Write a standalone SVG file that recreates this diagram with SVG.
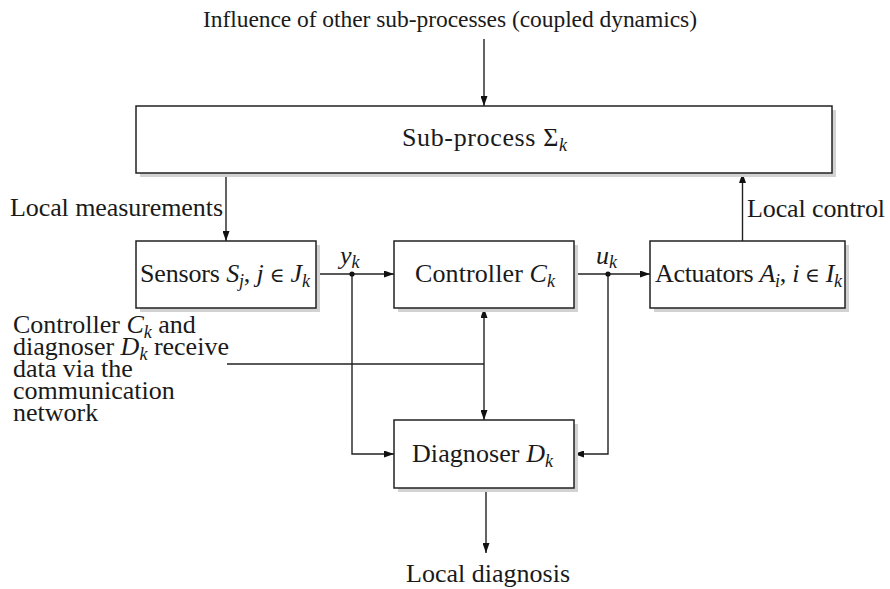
<svg xmlns="http://www.w3.org/2000/svg" width="890" height="589" viewBox="0 0 890 589">
  <style>
    .t{font-family:"Liberation Serif","Times New Roman",serif;font-size:26px;fill:#1a1a1a}
    .top{font-size:23.5px}
    .i{font-style:italic}
    .s{font-size:18px;font-style:italic}
    .el{font-family:"DejaVu Serif","Liberation Serif",serif;font-size:20px}
    .box{fill:#fff;stroke:#222;stroke-width:1.5}
    .sh{fill:#d2d2d2}
    .ln{fill:none;stroke:#222;stroke-width:1.4}
    .dot{fill:#111}
  </style>
  <defs>
    <marker id="arr" viewBox="0 0 10 7" refX="10" refY="3.5" markerWidth="10" markerHeight="7" markerUnits="userSpaceOnUse" orient="auto-start-reverse">
      <path d="M0,0 L10,3.5 L0,7 z" fill="#111"/>
    </marker>
  </defs>

  <rect width="890" height="589" fill="#fff"/>

  <!-- free labels -->
  <text class="t top" x="450" y="27" text-anchor="middle" textLength="494" lengthAdjust="spacing">Influence of other sub-processes (coupled dynamics)</text>
  <text class="t" x="10" y="216" textLength="213" lengthAdjust="spacing">Local measurements</text>
  <text class="t" x="747" y="217" textLength="138" lengthAdjust="spacing">Local control</text>
  <text class="t" x="406" y="582" textLength="164" lengthAdjust="spacing">Local diagnosis</text>
  <g id="network-note">
    <text class="t">
      <tspan x="13" y="333">Controller <tspan class="i">C</tspan><tspan class="s" dy="5">k</tspan><tspan dy="-5"> and</tspan></tspan>
      <tspan x="13" y="355">diagnoser <tspan class="i">D</tspan><tspan class="s" dy="5">k</tspan><tspan dy="-5"> receive</tspan></tspan>
      <tspan x="13" y="377">data via the</tspan>
      <tspan x="13" y="399">communication</tspan>
      <tspan x="13" y="421">network</tspan>
    </text>
  </g>

  <!-- connectors -->
  <g id="connectors">
    <path class="ln" d="M484,39 V106" marker-end="url(#arr)"/>
    <path class="ln" d="M226,173 V241" marker-end="url(#arr)"/>
    <path class="ln" d="M742.5,241 V173" marker-end="url(#arr)"/>
    <path class="ln" d="M316,274 H394" marker-end="url(#arr)"/>
    <path class="ln" d="M574,274 H650" marker-end="url(#arr)"/>
    <path class="ln" d="M352,274 V454 H394" marker-end="url(#arr)"/>
    <path class="ln" d="M608,274 V454 H574" marker-end="url(#arr)"/>
    <path class="ln" d="M484,308 V420" marker-start="url(#arr)" marker-end="url(#arr)"/>
    <path class="ln" d="M227,364 H484"/>
    <path class="ln" d="M486,488 V553" marker-end="url(#arr)"/>
    <circle class="dot" cx="352" cy="274" r="2.6"/>
    <circle class="dot" cx="608" cy="274" r="2.6"/>
    <text class="t" x="340" y="264"><tspan class="i">y</tspan><tspan class="s" dy="4">k</tspan></text>
    <text class="t" x="596" y="264"><tspan class="i">u</tspan><tspan class="s" dy="4">k</tspan></text>
  </g>

  <!-- nodes -->
  <g id="subprocess">
    <rect class="sh" x="140" y="110" width="696" height="67"/>
    <rect class="box" x="136" y="106" width="696" height="67"/>
    <text class="t" x="402" y="146" textLength="165" lengthAdjust="spacing">Sub-process  Σ<tspan class="s" dy="5">k</tspan></text>
  </g>
  <g id="sensors">
    <rect class="sh" x="140" y="245" width="180" height="67"/>
    <rect class="box" x="136" y="241" width="180" height="67"/>
    <text class="t" x="140" y="282" textLength="170" lengthAdjust="spacing">Sensors <tspan class="i">S</tspan><tspan class="s" dy="5">j</tspan><tspan dy="-5">, </tspan><tspan class="i">j</tspan><tspan class="el"> ∈ </tspan><tspan class="i">J</tspan><tspan class="s" dy="5">k</tspan></text>
  </g>
  <g id="controller">
    <rect class="sh" x="398" y="245" width="180" height="67"/>
    <rect class="box" x="394" y="241" width="180" height="67"/>
    <text class="t" x="415" y="282" textLength="140" lengthAdjust="spacing">Controller  <tspan class="i">C</tspan><tspan class="s" dy="5">k</tspan></text>
  </g>
  <g id="actuators">
    <rect class="sh" x="654" y="245" width="195" height="67"/>
    <rect class="box" x="650" y="241" width="195" height="67"/>
    <text class="t" x="655" y="282" textLength="187" lengthAdjust="spacing">Actuators <tspan class="i">A</tspan><tspan class="s" dy="5">i</tspan><tspan dy="-5">, </tspan><tspan class="i">i</tspan><tspan class="el"> ∈ </tspan><tspan class="i">I</tspan><tspan class="s" dy="5">k</tspan></text>
  </g>
  <g id="diagnoser">
    <rect class="sh" x="398" y="424" width="180" height="68"/>
    <rect class="box" x="394" y="420" width="180" height="68"/>
    <text class="t" x="412" y="462" textLength="141" lengthAdjust="spacing">Diagnoser  <tspan class="i">D</tspan><tspan class="s" dy="5">k</tspan></text>
  </g>
</svg>
